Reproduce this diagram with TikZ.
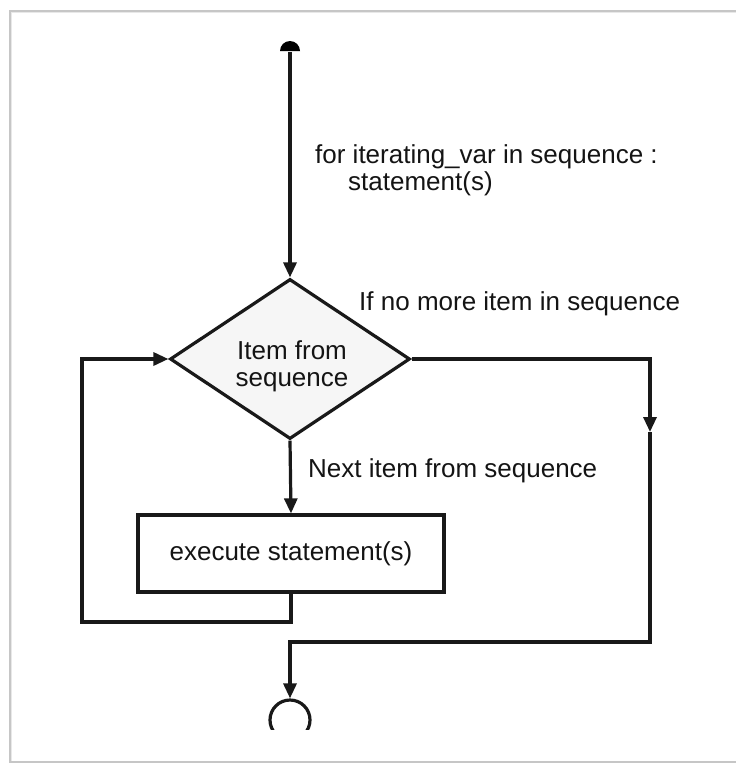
\documentclass[tikz,border=0pt]{standalone}
\usepackage{fontspec}
\setmainfont{Liberation Sans}
\usetikzlibrary{arrows.meta,shapes.geometric}
\begin{document}
\begin{tikzpicture}[x=1pt,y=-1pt,
  ln/.style={line width=3.2pt,draw=black!90},
  tip/.style={-{Triangle[length=15pt,width=13pt]}},
  txt/.style={font=\fontsize{26}{27}\selectfont,text=black!92,inner sep=0pt},
  decbox/.style={diamond,ln,fill=gray!7,minimum width=240pt,minimum height=160pt,inner sep=0pt,aspect=1.5},
  procbox/.style={rectangle,ln,minimum width=306pt,minimum height=77pt,inner sep=0pt},
  endbox/.style={circle,ln,minimum size=40pt,inner sep=0pt}]
\useasboundingbox (0,0) rectangle (736,763);
% frame
\draw[line width=3pt,gray!18] (10,11) -- (740,11);
\draw[line width=3pt,gray!18] (10,11) -- (10,764);
\draw[line width=1.4pt,gray!45] (740,11) -- (10,11) -- (10,762) -- (740,762);
% start
\coordinate (start) at (290,52);
\fill[black] (280,51) arc[start angle=180,end angle=360,radius=10] -- cycle;
% decision
\node[decbox] (dec) at (290,359) {};
\node[txt,align=center] (dectxt) at (292,366) {Item from\\sequence};
% process
\node[procbox,txt] (proc) at (291,553.5) {execute statement(s)};
% end
\begin{scope}
\clip (0,0) rectangle (736,729);
\node[endbox] (end) at (290,720) {};
\end{scope}
% coordinates
\coordinate (lb) at (82,622);
\coordinate (ra) at (650,432);
\coordinate (rb) at (650,642);
% connectors
\draw[ln,tip] (start) -- (dec.north);
\draw[ln,tip] (dec.south) -- (proc.north);
\draw[ln,tip] (proc.south) |- (lb) |- (dec.west);
\draw[ln,tip] (dec.east) -| (ra);
\draw[ln,tip] (ra) -- (rb) -| (end.north);
% labels
\node[txt,anchor=base west] (t1) at (315,163) {for iterating\_var in sequence :};
\node[txt,anchor=base west] (t2) at (348,190) {statement(s)};
\node[txt,anchor=base west] (t3) at (359,310) {If no more item in sequence};
\node[txt,anchor=base west] (t4) at (308,477) {Next item from sequence};
\end{tikzpicture}
\end{document}
